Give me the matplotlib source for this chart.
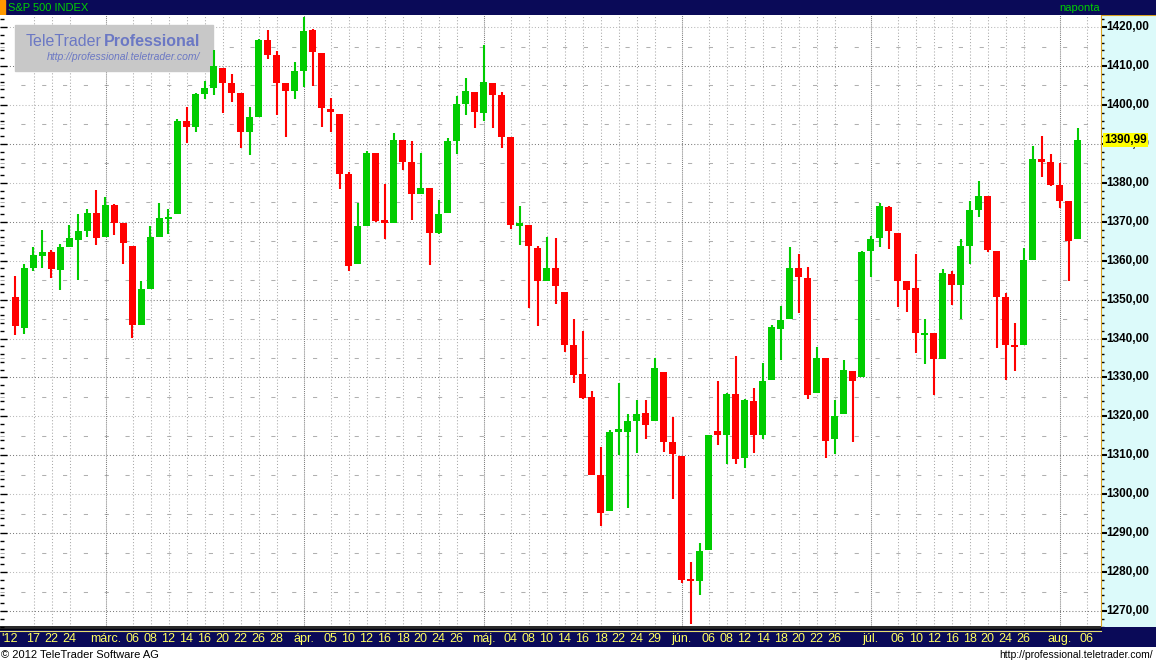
import matplotlib
matplotlib.use("Agg")
import numpy as np
import matplotlib.pyplot as plt
from matplotlib.patches import Rectangle

plt.rcParams['font.family'] = ['Liberation Sans', 'DejaVu Sans']

# S&P 500 daily candles, 2012-02-15 .. 2012-08-03
opens = [1350.7, 1342.8, 1358.1, 1361.3, 1362.2, 1357.6, 1363.4, 1365.3, 1367.5, 1372.2,
         1366.0, 1374.3, 1369.6, 1363.7, 1343.5, 1352.6, 1366.0, 1370.8, 1372.0, 1396.0,
         1394.3, 1402.8, 1404.3, 1409.6, 1405.6, 1403.0, 1393.1, 1397.0, 1416.6, 1412.7,
         1405.6, 1403.6, 1408.6, 1419.2, 1413.3, 1398.9, 1397.6, 1382.3, 1359.2, 1368.8,
         1387.6, 1370.5, 1369.8, 1390.9, 1385.3, 1377.1, 1378.6, 1367.1, 1372.2, 1390.7,
         1400.2, 1403.3, 1397.9, 1405.6, 1402.5, 1391.7, 1368.9, 1369.1, 1363.2, 1354.8,
         1358.1, 1351.9, 1338.4, 1330.9, 1324.9, 1305.0, 1295.7, 1316.1, 1316.1, 1318.8,
         1320.8, 1318.8, 1331.4, 1313.3, 1309.9, 1278.3, 1277.8, 1285.8, 1316.2, 1315.1,
         1325.8, 1309.4, 1323.9, 1315.1, 1329.4, 1342.5, 1345.0, 1358.1, 1355.5, 1326.0,
         1334.9, 1314.3, 1320.6, 1331.6, 1330.1, 1362.4, 1365.8, 1373.7, 1367.0, 1354.8,
         1352.9, 1340.9, 1341.3, 1334.7, 1356.6, 1353.7, 1363.7, 1373.0, 1376.6, 1362.4,
         1350.6, 1338.3, 1338.3, 1360.1, 1386.1, 1385.3, 1379.4, 1375.3, 1365.5]
highs = [1356.1, 1359.1, 1363.4, 1367.8, 1362.7, 1364.2, 1369.1, 1372.0, 1373.2, 1378.1,
         1376.3, 1374.5, 1369.6, 1363.7, 1354.9, 1368.8, 1374.8, 1373.2, 1396.3, 1399.4,
         1403.1, 1406.1, 1414.1, 1409.6, 1407.9, 1403.0, 1399.4, 1416.9, 1419.2, 1413.8,
         1405.6, 1410.9, 1422.5, 1419.5, 1413.3, 1401.7, 1397.6, 1382.9, 1374.8, 1388.1,
         1387.6, 1379.6, 1392.7, 1390.9, 1390.7, 1387.6, 1378.6, 1375.5, 1391.4, 1402.2,
         1406.8, 1403.3, 1415.4, 1405.6, 1403.3, 1391.7, 1374.0, 1369.1, 1363.7, 1366.0,
         1365.7, 1351.9, 1345.0, 1341.9, 1326.4, 1312.2, 1316.5, 1328.7, 1320.6, 1324.2,
         1324.2, 1334.9, 1331.4, 1319.8, 1309.9, 1282.6, 1287.6, 1315.2, 1329.1, 1326.0,
         1335.5, 1324.5, 1327.4, 1333.7, 1343.5, 1348.4, 1363.4, 1361.7, 1358.4, 1337.8,
         1334.9, 1324.2, 1334.4, 1331.6, 1362.4, 1366.3, 1374.8, 1374.0, 1367.0, 1354.8,
         1361.7, 1345.0, 1341.3, 1357.8, 1357.3, 1365.5, 1375.3, 1380.4, 1376.6, 1362.4,
         1351.6, 1344.0, 1363.2, 1389.4, 1391.9, 1387.4, 1385.1, 1375.3, 1394.2]
lows = [1340.8, 1341.2, 1357.3, 1358.1, 1355.5, 1352.5, 1363.4, 1355.0, 1366.0, 1364.1,
        1366.0, 1366.6, 1359.1, 1340.1, 1343.5, 1352.6, 1366.0, 1366.9, 1372.0, 1390.3,
        1393.1, 1401.6, 1402.5, 1397.9, 1400.8, 1389.0, 1387.2, 1397.0, 1411.9, 1397.3,
        1391.7, 1401.6, 1404.5, 1404.9, 1394.3, 1393.1, 1378.4, 1357.4, 1359.2, 1368.8,
        1370.0, 1365.5, 1369.8, 1383.4, 1370.5, 1377.1, 1359.0, 1366.8, 1372.2, 1387.5,
        1397.3, 1394.1, 1395.8, 1394.1, 1388.9, 1368.1, 1364.1, 1347.9, 1343.3, 1354.8,
        1348.9, 1336.6, 1328.7, 1324.5, 1305.0, 1291.8, 1295.7, 1310.1, 1296.5, 1310.6,
        1314.3, 1318.8, 1310.9, 1298.9, 1277.3, 1266.6, 1274.2, 1285.8, 1312.7, 1307.8,
        1307.8, 1306.8, 1310.6, 1314.2, 1329.4, 1334.5, 1345.0, 1346.5, 1324.5, 1326.0,
        1309.4, 1310.4, 1320.6, 1313.5, 1330.1, 1355.9, 1363.5, 1363.0, 1348.2, 1346.9,
        1336.2, 1333.4, 1325.4, 1334.7, 1348.6, 1345.0, 1359.1, 1371.2, 1362.2, 1337.5,
        1329.3, 1331.6, 1338.3, 1360.1, 1381.4, 1379.1, 1373.5, 1354.7, 1365.5]
closes = [1343.3, 1358.1, 1361.4, 1362.2, 1357.9, 1363.4, 1365.7, 1367.5, 1372.2, 1365.8,
          1374.3, 1369.6, 1364.6, 1343.5, 1352.6, 1366.0, 1370.9, 1371.2, 1396.0, 1394.3,
          1402.8, 1404.3, 1410.1, 1405.6, 1403.1, 1393.1, 1397.0, 1416.6, 1412.9, 1405.6,
          1403.6, 1408.6, 1418.9, 1413.6, 1399.3, 1398.2, 1382.3, 1358.7, 1368.8, 1387.6,
          1370.2, 1369.8, 1390.9, 1385.3, 1377.1, 1378.6, 1367.1, 1372.0, 1390.7, 1400.2,
          1403.5, 1398.1, 1405.8, 1402.5, 1391.8, 1369.2, 1369.6, 1363.8, 1354.8, 1358.1,
          1353.5, 1338.4, 1330.7, 1324.8, 1305.0, 1295.2, 1316.1, 1316.8, 1318.8, 1320.6,
          1317.8, 1332.5, 1313.5, 1310.4, 1278.0, 1277.8, 1285.4, 1315.2, 1315.1, 1325.8,
          1309.1, 1324.2, 1315.1, 1329.1, 1343.0, 1344.7, 1358.1, 1355.9, 1325.5, 1334.9,
          1313.8, 1320.1, 1331.9, 1329.2, 1362.2, 1365.5, 1374.0, 1367.6, 1354.8, 1352.5,
          1341.3, 1341.3, 1334.7, 1356.8, 1353.7, 1363.7, 1373.0, 1376.6, 1362.7, 1350.7,
          1338.3, 1337.8, 1360.1, 1386.1, 1385.3, 1379.4, 1375.3, 1365.0, 1390.99]

# date labels (trading-day index, text)
date_pos = [-0.65, 2, 4, 6, 10, 13, 15, 17, 19, 21, 23, 25, 27, 29,
            32, 35, 37, 39, 41, 43, 45, 47, 49,
            52, 55, 57, 59, 61, 63, 65, 67, 69, 71,
            74, 77, 79, 81, 83, 85, 87, 89, 91,
            95, 98, 100, 102, 104, 106, 108, 110, 112,
            116, 119]
date_text = ["'12", "17", "22", "24", "márc.", "06", "08", "12", "14", "16", "20", "22", "26", "28",
             "ápr.", "05", "10", "12", "16", "18", "20", "24", "26",
             "máj.", "04", "08", "10", "14", "16", "18", "22", "24", "29",
             "jún.", "06", "08", "12", "14", "18", "20", "22", "26",
             "júl.", "06", "10", "12", "16", "18", "20", "24", "26",
             "aug.", "06"]
month_labels = ["márc.", "ápr.", "máj.", "jún.", "júl.", "aug."]

price_ticks = list(range(1270, 1421, 10))

W, H = 1156, 664
NAVY = '#0a0a58'


def box(x0, y0, x1, y1):
    return [x0 / W, 1 - y1 / H, (x1 - x0) / W, (y1 - y0) / H]


fig = plt.figure(figsize=(W / 100, H / 100), dpi=100)
fig.patch.set_facecolor('white')

ylim = (1265.9, 1423.1)
xlim = (-1.72, 120.6)
AX_H = 627 - 15

# ---- main chart
ax = fig.add_axes(box(0, 15, 1101, 627))
ax.set_xlim(*xlim)
ax.set_ylim(*ylim)
ax.set_facecolor('white')

for v in price_ticks:
    dark = (v // 10) % 2 == 1
    ax.axhline(v, color='#7c7c7c' if dark else '#b8b8b8', lw=0.75,
               ls=(0, (1, 2)), zorder=1)
    ax.axhline(v + 5, color='#b0b0b0', lw=0.75, ls=(0, (4, 16)), zorder=1)
for p, t in zip(date_pos[1:], date_text[1:]):
    if t in month_labels:
        ax.axvline(p + 0.1, color='#7c7c7c', lw=0.75, ls=(0, (1, 1)), zorder=1)
    else:
        ax.axvline(p + 0.1, color='#a8a8a8', lw=0.75, ls=(0, (1, 2)), zorder=1)

# watermark (under the candles)
ax.add_patch(Rectangle((15 / 1101, 1 - 56 / AX_H), 198 / 1101, 46 / AX_H,
                       transform=ax.transAxes, color='#c8c8c8', zorder=2))
ax.text(26 / 1101, 1 - 26 / AX_H, 'TeleTrader', transform=ax.transAxes,
        color='#6b78c4', fontsize=11.5, va='center', ha='left', zorder=2.5)
ax.text(104 / 1101, 1 - 26 / AX_H, 'Professional', transform=ax.transAxes,
        color='#6b78c4', fontsize=11.5, fontweight='bold', va='center',
        ha='left', zorder=2.5)
ax.text(47 / 1101, 1 - 42 / AX_H, 'http://professional.teletrader.com/',
        transform=ax.transAxes, color='#6b78c4', fontsize=7.5, style='italic',
        va='center', ha='left', zorder=2.5)

o = np.array(opens)
h = np.array(highs)
l = np.array(lows)
c = np.array(closes)
x = np.arange(len(c))
cols = np.where(c >= o, '#00cc00', '#ff0000')
ax.vlines(x, l, h, colors=cols, lw=1.5, zorder=3)
body = np.abs(c - o)
mid = (o + c) / 2
hgt = np.maximum(body, 0.55)
ax.bar(x, hgt, bottom=mid - hgt / 2, width=0.78, color=cols, lw=0, zorder=4)

ax.set_yticks(price_ticks)
ax.set_yticks(range(1266, 1423, 2), minor=True)
ax.tick_params(axis='y', which='major', direction='in', length=5, width=1,
               color='black', labelleft=False)
ax.tick_params(axis='y', which='minor', direction='in', length=3, width=1,
               color='black')
ax.set_xticks([])
for s in ['top', 'right', 'left']:
    ax.spines[s].set_visible(False)
ax.spines['bottom'].set_color('black')
ax.spines['bottom'].set_linewidth(1.2)

# ---- right price axis
ax2 = fig.add_axes(box(1101, 15, 1156, 627))
ax2.set_facecolor('#dcfafa')
ax2.set_ylim(*ylim)
ax2.set_xlim(0, 1)
ax2.set_xticks([])
ax2.set_yticks(price_ticks)
ax2.set_yticks(range(1266, 1423, 2), minor=True)
ax2.tick_params(axis='y', which='major', direction='in', length=4, width=1.5,
                color='black', labelleft=False)
ax2.tick_params(axis='y', which='minor', direction='in', length=2, width=1,
                color='black')
for s in ['right', 'bottom']:
    ax2.spines[s].set_visible(False)
ax2.spines['left'].set_color('#d8a020')
ax2.spines['top'].set_color('#d8a020')
for v in price_ticks:
    ax2.text(0.1, v, f'{v:.2f}'.replace('.', ','), fontsize=8.5,
             fontweight='bold', color='black', va='center', ha='left')
ax2.text(0.06, closes[-1], f'{closes[-1]:.2f}'.replace('.', ','), fontsize=8.5,
         fontweight='bold', color='black', va='center', ha='left',
         bbox=dict(boxstyle='square,pad=0.12', fc='#ffff00', ec='none'),
         zorder=5)

# ---- header bar
hdr = fig.add_axes(box(0, 0, W, 15))
hdr.set_xlim(0, W)
hdr.set_ylim(15, 0)
hdr.axis('off')
hdr.add_patch(Rectangle((0, 0), W, 15, color=NAVY))
hdr.add_patch(Rectangle((0, 0), 5, 15, color='#ff9900'))
hdr.text(8, 8, 'S&P 500 INDEX', color='#00d000', fontsize=8, va='center',
         ha='left')
hdr.text(1100, 8, 'naponta', color='#00d000', fontsize=8, va='center',
         ha='right')

# ---- date bar
bar = fig.add_axes(box(0, 627, W, 647))
bar.set_xlim(0, W)
bar.set_ylim(20, 0)
bar.axis('off')
bar.add_patch(Rectangle((0, 2), W, 18, color=NAVY))
bar.add_patch(Rectangle((1101, 0), W - 1101, 20, color=NAVY))
bar.plot([0, 1101], [2.2, 2.2], color='black', lw=1.2)
bar.plot([0, 1101], [3.6, 3.6], color='#e8e070', lw=0.8)

dax = fig.add_axes(box(0, 627, 1101, 647))
dax.set_xlim(*xlim)
dax.set_ylim(20, 0)
dax.axis('off')
for p, t in zip(date_pos, date_text):
    dax.text(p, 12, t, color='#ffff60', fontsize=9, ha='center', va='center')

# ---- footer
fig.text(1 / W, 1 - 655 / H, '© 2012 TeleTrader Software AG', fontsize=8,
         color='black', ha='left', va='center')
fig.text(1153 / W, 1 - 655 / H, 'http://professional.teletrader.com/',
         fontsize=7.5, color='black', ha='right', va='center')

fig.savefig('out.png', dpi=100, facecolor='white')
